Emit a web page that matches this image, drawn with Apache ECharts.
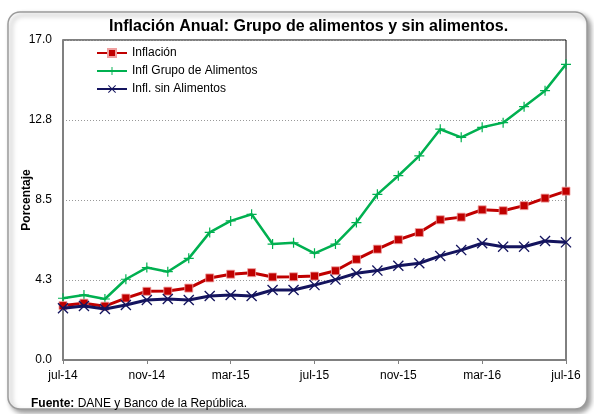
<!DOCTYPE html>
<html>
<head>
<meta charset="utf-8">
<script src="https://cdn.jsdelivr.net/npm/echarts@6/dist/echarts.min.js"></script>
<style>
  html, body { margin: 0; padding: 0; background: #fff; }
  #main { width: 594px; height: 414px; }
</style>
</head>
<body>
<div id="main"></div>
<script>
// meses jul-14 a jul-16
var meses = ['jul-14','ago-14','sep-14','oct-14','nov-14','dic-14','ene-15','feb-15','mar-15','abr-15','may-15','jun-15',
             'jul-15','ago-15','sep-15','oct-15','nov-15','dic-15','ene-16','feb-16','mar-16','abr-16','may-16','jun-16','jul-16'];
var inflacion = [2.89,3.02,2.86,3.29,3.65,3.66,3.82,4.36,4.56,4.64,4.41,4.42,
                 4.46,4.74,5.35,5.89,6.39,6.77,7.45,7.59,7.98,7.93,8.20,8.60,8.97];
var alimentos = [3.28,3.45,3.24,4.29,4.91,4.69,5.40,6.78,7.39,7.74,6.16,6.23,
                 5.67,6.16,7.30,8.80,9.79,10.84,12.26,11.83,12.36,12.61,13.46,14.31,15.71];
var sinAlimentos = [2.75,2.87,2.71,2.92,3.19,3.24,3.19,3.40,3.45,3.40,3.72,3.72,
                    3.98,4.27,4.61,4.75,5.01,5.14,5.53,5.84,6.20,6.02,6.02,6.32,6.25];

var font = 'Arial, "Liberation Sans", sans-serif';
var plusPath = 'path://M4.4,0H5.6V4.4H10V5.6H5.6V10H4.4V5.6H0V4.4H4.4Z';
var crossPath = 'path://M0,0.85L0.85,0L5,4.15L9.15,0L10,0.85L5.85,5L10,9.15L9.15,10L5,5.85L0.85,10L0,9.15L4.15,5Z';

var myChart = echarts.init(document.getElementById('main'));
var option = {
    backgroundColor: '#fff',
    animation: false,
    textStyle: { fontFamily: font },
    title: {
        text: 'Inflación Anual: Grupo de alimentos y sin alimentos.',
        left: 109,
        top: 19,
        padding: 0,
        textStyle: { fontFamily: font, fontSize: 16, fontWeight: 'bold', color: '#000' }
    },
    legend: {
        orient: 'vertical',
        left: 96,
        top: 47,
        padding: 0,
        itemWidth: 30,
        itemHeight: 10,
        itemGap: 6,
        textStyle: { fontFamily: font, fontSize: 12, color: '#000' },
        data: ['Inflación', 'Infl Grupo de Alimentos', 'Infl. sin Alimentos']
    },
    grid: {
        left: 63,
        right: 28,
        top: 40,
        bottom: 54,
        show: true,
        borderColor: '#000',
        borderWidth: 1,
        backgroundColor: 'transparent'
    },
    xAxis: {
        type: 'category',
        data: meses,
        boundaryGap: false,
        axisLine: { lineStyle: { color: '#808080', width: 2 } },
        axisTick: { show: true, interval: 3, length: 4, lineStyle: { color: '#808080' } },
        axisLabel: { interval: 3, color: '#000', fontSize: 12, margin: 10, fontFamily: font },
        splitLine: { show: false }
    },
    yAxis: {
        type: 'value',
        min: 0,
        max: 17,
        interval: 4.25,
        name: 'Porcentaje',
        nameLocation: 'middle',
        nameGap: 30,
        nameMoveOverlap: false,
        nameTextStyle: { fontFamily: font, fontSize: 12, fontWeight: 'bold', color: '#000' },
        axisLine: { show: true, lineStyle: { color: '#808080', width: 2 } },
        axisTick: { show: false },
        axisLabel: {
            color: '#000', fontSize: 12, margin: 11, fontFamily: font,
            formatter: function (v) { return v.toFixed(1); }
        },
        splitLine: { show: true, lineStyle: { color: '#999', type: [1, 2], width: 1 } }
    },
    series: [
        {
            name: 'Infl Grupo de Alimentos',
            type: 'line',
            data: alimentos,
            symbol: plusPath,
            symbolSize: 10,
            lineStyle: { color: '#00B050', width: 2.5 },
            itemStyle: { color: '#00B050', borderWidth: 0 },
            z: 3
        },
        {
            name: 'Inflación',
            type: 'line',
            data: inflacion,
            symbol: 'rect',
            symbolSize: 8,
            lineStyle: { color: '#C00000', width: 3 },
            itemStyle: { color: '#C00000', borderColor: '#f0a0a0', borderWidth: 0.8 },
            z: 4
        },
        {
            name: 'Infl. sin Alimentos',
            type: 'line',
            data: sinAlimentos,
            symbol: crossPath,
            symbolSize: 11,
            lineStyle: { color: '#14145E', width: 3 },
            itemStyle: { color: '#14145E', borderWidth: 0 },
            z: 5
        }
    ],
    graphic: [
        {
            type: 'rect',
            z: -10,
            shape: { x: 8, y: 12, width: 579, height: 397, r: 12 },
            style: {
                fill: '#fff',
                stroke: '#9a9a9a',
                lineWidth: 1.5,
                shadowBlur: 5,
                shadowOffsetX: 3,
                shadowOffsetY: 3,
                shadowColor: 'rgba(0,0,0,0.4)'
            }
        },
        {
            type: 'text',
            left: 31,
            top: 398,
            style: {
                text: '{b|Fuente:} DANE y Banco de la República.',
                rich: {
                    b: { fontWeight: 'bold', fontSize: 12, fontFamily: font, fill: '#000' }
                },
                fontSize: 12,
                fontFamily: font,
                fill: '#000'
            }
        }
    ]
};
window.onresize = myChart.resize;
myChart.setOption(option);
</script>
</body>
</html>
